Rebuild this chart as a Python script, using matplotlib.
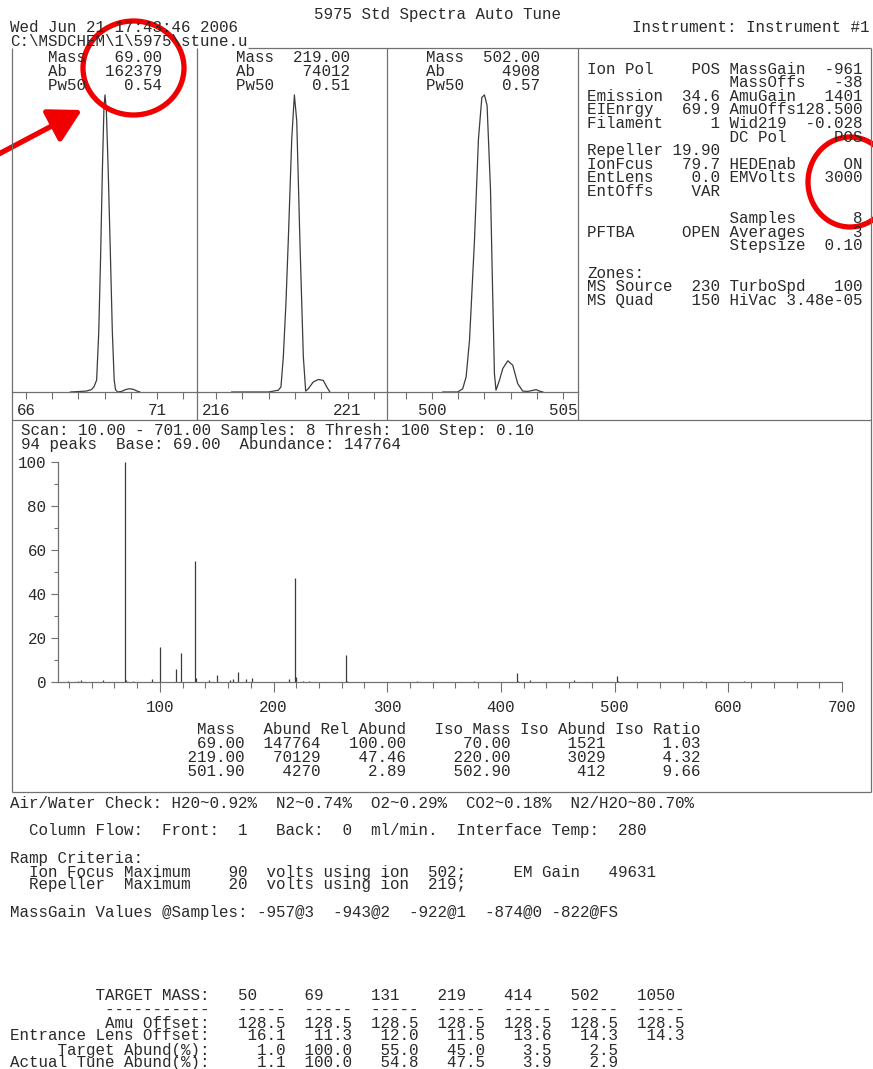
import matplotlib
matplotlib.use("Agg")
import matplotlib.pyplot as plt
from matplotlib.patches import Ellipse, FancyArrowPatch
from matplotlib.ticker import FixedLocator

W, H = 873, 1069
FONT = "Liberation Mono"
FS = 11.4
TXT = "#2a2a2a"
LINE = "#707070"
TRACE = "#3c3c3c"
RED = "#f00000"
plt.rcParams['font.family'] = FONT

# ---------------- data ----------------
title = "5975 Std Spectra Auto Tune"
date_str = "Wed Jun 21 17:43:46 2006"
instrument = "Instrument: Instrument #1"
path_str = "C:\\MSDCHEM\\1\\5975\\stune.u"

tune_mass = [69.00, 219.00, 502.00]
tune_ab = [162379, 74012, 4908]
tune_pw50 = [0.54, 0.51, 0.57]
panel_xlim = [(65.47, 72.53), (215.28, 222.5), (498.28, 505.57)]
panel_ticks = [[66, 67, 68, 69, 70, 71, 72], [216, 217, 218, 219, 220, 221, 222],
               [499, 500, 501, 502, 503, 504, 505]]
panel_labels = [[66, 71], [216, 221], [500, 505]]

prof69_mz = [67.7, 68.3, 68.5, 68.6, 68.7, 68.78, 68.85, 68.92, 68.98, 69.02, 69.07,
             69.14, 69.22, 69.3, 69.37, 69.42, 69.5, 69.65, 69.8, 69.95, 70.1, 70.25, 70.35]
prof69_ab = [0.0, 0.3, 0.8, 1.8, 4.0, 20.0, 45.0, 75.0, 96.0, 100.0, 95.0,
             75.0, 48.0, 20.0, 4.0, 0.8, 0.0, 0.2, 0.8, 1.1, 0.9, 0.3, 0.0]
prof219_mz = [216.6, 218.0, 218.37, 218.47, 218.56, 218.66, 218.75, 218.88, 218.98, 219.07,
              219.19, 219.32, 219.41, 219.51, 219.6, 219.7, 219.89, 220.08, 220.21, 220.33]
prof219_ab = [0.0, 0.0, 0.6, 1.7, 11.8, 30.0, 51.3, 85.1, 100.0, 91.3,
              51.0, 12.0, 0.3, 1.1, 2.2, 3.4, 4.2, 3.9, 1.7, 0.0]
prof502_mz = [500.41, 500.98, 501.17, 501.3, 501.43, 501.62, 501.77, 501.9, 502.0, 502.1,
              502.23, 502.31, 502.38, 502.44, 502.57, 502.7, 502.89, 503.08, 503.27, 503.46,
              503.66, 503.97, 504.1, 504.23]
prof502_ab = [0.0, 0.0, 1.1, 5.1, 17.5, 51.3, 85.1, 99.2, 100.0, 96.4,
              68.2, 34.4, 6.2, 0.6, 3.9, 7.9, 10.5, 9.0, 2.8, 0.3,
              0.2, 0.8, 0.3, 0.0]

spec_mz = [19, 28, 31, 50, 69, 70, 76, 93, 100, 114, 119, 131, 132, 143, 150, 162, 164,
           169, 176, 181, 214, 219, 220, 226, 231, 264, 265, 314, 326, 364, 376, 414,
           415, 426, 464, 502, 503, 576, 614]
spec_rel = [0.5, 0.5, 1.1, 1.0, 100.0, 1.0, 0.4, 1.2, 15.9, 5.9, 13.2, 54.8, 2.0, 0.8,
            3.0, 0.8, 1.5, 4.4, 1.3, 1.6, 1.5, 47.5, 2.1, 0.5, 0.5, 12.2, 0.6, 0.2, 0.3,
            0.2, 0.3, 3.9, 0.4, 0.7, 1.1, 2.9, 0.3, 0.3, 0.3]

tbl_mass = [69.00, 219.00, 501.90]
tbl_abund = [147764, 70129, 4270]
tbl_rel = [100.00, 47.46, 2.89]
tbl_iso_mass = [70.00, 220.00, 502.90]
tbl_iso_abund = [1521, 3029, 412]
tbl_iso_ratio = [1.03, 4.32, 9.66]

info_left = [("Ion Pol", "POS"), ("", ""), ("Emission", "34.6"), ("EIEnrgy", "69.9"),
             ("Filament", "1"), ("", ""), ("Repeller", "19.90"), ("IonFcus", "79.7"),
             ("EntLens", "0.0"), ("EntOffs", "VAR"), ("", ""), ("", ""), ("PFTBA", "OPEN"),
             ("", ""), ("", ""), ("Zones:", ""), ("MS Source", "230"), ("MS Quad", "150")]
info_right = [("MassGain", "-961"), ("MassOffs", "-38"), ("AmuGain", "1401"),
              ("AmuOffs", "128.500"), ("Wid219", "-0.028"), ("DC Pol", "POS"), ("", ""),
              ("HEDEnab", "ON"), ("EMVolts", "3000"), ("", ""), ("", ""), ("Samples", "8"),
              ("Averages", "3"), ("Stepsize", "0.10"), ("", ""), ("", ""),
              ("TurboSpd", "100"), ("HiVac", "3.48e-05")]

target_mass = [50, 69, 131, 219, 414, 502, 1050]
amu_offset = [128.5, 128.5, 128.5, 128.5, 128.5, 128.5, 128.5]
ent_lens_offset = [16.1, 11.3, 12.0, 11.5, 13.6, 14.3, 14.3]
target_abund = [1.0, 100.0, 55.0, 45.0, 3.5, 2.5]
actual_abund = [1.1, 100.0, 54.8, 47.5, 3.9, 2.9]

# ---------------- figure ----------------
fig = plt.figure(figsize=(W / 100, H / 100), dpi=100)
fig.patch.set_facecolor("white")


def rect(x0, y0, x1, y1):
    return [x0 / W, 1 - y1 / H, (x1 - x0) / W, (y1 - y0) / H]


ov = fig.add_axes([0, 0, 1, 1], zorder=10)
ov.set_xlim(0, W)
ov.set_ylim(H, 0)
ov.axis("off")
ov.patch.set_alpha(0)


def T(x, y, s, ha="left"):
    ov.text(x, y, s, ha=ha, va="center", fontsize=FS, color=TXT, family=FONT)


def L(xs, ys):
    ov.plot(xs, ys, color=LINE, lw=0.9, solid_capstyle="butt")


# header
T(437, 14, title, ha="center")
T(10, 27, date_str)
T(870, 27, instrument, ha="right")
T(10, 41, path_str)

# frames
TOP, MID, BOT = 47.5, 420, 792
L([248, 870.5], [TOP, TOP])
L([11.5, 11.5], [TOP, BOT])
L([870.5, 870.5], [TOP, BOT])
for xd in (197, 387, 578):
    L([xd, xd], [TOP, MID])
L([11.5, 870.5], [MID, MID])
L([11.5, 870.5], [BOT, BOT])

# tune peak panels
panel_px = [(12, 197), (197, 387), (387, 578)]
profiles = [(prof69_mz, prof69_ab), (prof219_mz, prof219_ab), (prof502_mz, prof502_ab)]
for i, (px0, px1) in enumerate(panel_px):
    ax = fig.add_axes(rect(px0, 48, px1, 392))
    ax.patch.set_alpha(0)
    mz, ab = profiles[i]
    ax.plot(mz, ab, color=TRACE, lw=0.9)
    ax.set_xlim(*panel_xlim[i])
    ax.set_ylim(0, 115.8)
    for s in ("top", "left", "right"):
        ax.spines[s].set_visible(False)
    ax.spines["bottom"].set_color(LINE)
    ax.spines["bottom"].set_linewidth(0.9)
    ax.set_yticks([])
    ax.set_xticks(panel_ticks[i])
    ax.set_xticklabels([str(t) if t in panel_labels[i] else "" for t in panel_ticks[i]])
    ax.tick_params(axis="x", direction="out", length=5, width=0.8, color=LINE,
                   labelsize=FS, labelcolor=TXT, pad=3)
    cx = (px0 + px1) / 2 + 1
    T(cx, 58, f"Mass{tune_mass[i]:>8.2f}", ha="center")
    T(cx, 72, f"Ab{tune_ab[i]:>10d}", ha="center")
    T(cx, 85, f"Pw50{tune_pw50[i]:>8.2f}", ha="center")

# info panel
for i, ((ll, lv), (rl, rv)) in enumerate(zip(info_left, info_right)):
    left = (ll + lv.rjust(14 - len(ll))) if lv else ll.ljust(14)
    right = (rl + rv.rjust(14 - len(rl))) if rl else ""
    line = (left.ljust(14) + " " + right).rstrip()
    T(587, 69 + i * 13.6, line)

# spectrum
T(21, 431, "Scan: 10.00 - 701.00 Samples: 8 Thresh: 100 Step: 0.10")
T(21, 444, "94 peaks  Base: 69.00  Abundance: 147764")
sx = fig.add_axes(rect(57.5, 462, 842, 682))
sx.patch.set_alpha(0)
sx.vlines(spec_mz, 0, spec_rel, color=TRACE, lw=0.9)
sx.set_xlim(10, 700)
sx.set_ylim(0, 100)
for s in ("top", "right"):
    sx.spines[s].set_visible(False)
for s in ("left", "bottom"):
    sx.spines[s].set_color(LINE)
    sx.spines[s].set_linewidth(0.9)
sx.set_xticks([100, 200, 300, 400, 500, 600, 700])
sx.xaxis.set_minor_locator(FixedLocator([v for v in range(20, 700, 20) if v % 100]))
sx.set_yticks([0, 20, 40, 60, 80, 100])
sx.yaxis.set_minor_locator(FixedLocator([10, 30, 50, 70, 90]))
sx.tick_params(axis="x", which="major", direction="out", length=7, width=0.8, color=LINE,
               labelsize=FS, labelcolor=TXT, pad=6)
sx.tick_params(axis="x", which="minor", direction="out", length=4, width=0.8, color=LINE)
sx.tick_params(axis="y", which="major", direction="out", length=5, width=0.8, color=LINE,
               labelsize=FS, labelcolor=TXT, pad=3)
sx.tick_params(axis="y", which="minor", direction="out", length=3, width=0.8, color=LINE)

# table under spectrum
tx = 178.5
T(tx, 730, "  Mass   Abund Rel Abund   Iso Mass Iso Abund Iso Ratio")
for i in range(3):
    row = (f"{tbl_mass[i]:7.2f}{tbl_abund[i]:8d}{tbl_rel[i]:9.2f}"
           f"{tbl_iso_mass[i]:11.2f}{tbl_iso_abund[i]:10d}{tbl_iso_ratio[i]:10.2f}")
    T(tx, 744 + i * 13.5, row)

# lower text block
T(10, 804, "Air/Water Check: H20~0.92%  N2~0.74%  O2~0.29%  CO2~0.18%  N2/H2O~80.70%")
T(10, 831, "  Column Flow:  Front:  1   Back:  0  ml/min.  Interface Temp:  280")
T(10, 858, "Ramp Criteria:")
T(10, 872, "  Ion Focus Maximum    90  volts using ion  502;     EM Gain   49631")
T(10, 885, "  Repeller  Maximum    20  volts using ion  219;")
T(10, 913, "MassGain Values @Samples: -957@3  -943@2  -922@1  -874@0 -822@FS")

# bottom table
rows = [
    "TARGET MASS:".rjust(21) + "   " + "".join(f"{m:<7d}" for m in target_mass),
    "-----------".rjust(21) + "   " + "".join("-----  " for _ in target_mass),
    "Amu Offset:".rjust(21) + "   " + "".join(f"{v:5.1f}  " for v in amu_offset),
    "Entrance Lens Offset:" + "   " + "".join(f"{v:5.1f}  " for v in ent_lens_offset),
    "Target Abund(%):".rjust(21) + "   " + "".join(f"{v:5.1f}  " for v in target_abund),
    "Actual Tune Abund(%):" + "   " + "".join(f"{v:5.1f}  " for v in actual_abund),
]
for i, r in enumerate(rows):
    T(10, [996, 1010, 1023, 1036, 1050, 1063][i], r.rstrip())

# red annotations
ov.add_patch(Ellipse((133.5, 68), 101, 94, fill=False, ec=RED, lw=3.8))
ov.add_patch(Ellipse((850, 182), 84, 90, fill=False, ec=RED, lw=3.8))
ov.add_patch(FancyArrowPatch((-5, 156), (82, 110),
                             arrowstyle="-|>,head_length=0.9,head_width=0.5",
                             mutation_scale=22, lw=3.8, color=RED,
                             shrinkA=0, shrinkB=0))

fig.savefig("out.png", dpi=100)
